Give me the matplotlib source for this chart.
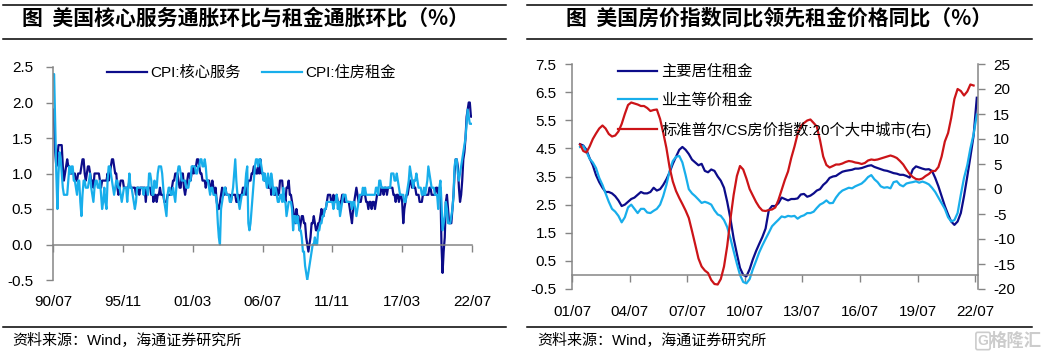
import numpy as np
import pandas as pd
import matplotlib
matplotlib.use("Agg")
import matplotlib.pyplot as plt
from matplotlib.lines import Line2D

# ---------------- data : left panel (monthly, 1990-07 .. 2022-07) ----------------
left_start = "1990-07-01"
core_services = [
    1.9, 1.7, 1.3, 1.1, 1.2, 1.4, 1.4, 1.4, 1.4, 1.1, 0.9, 1.0,
    1.1, 1.2, 1.1, 1.1, 1.0, 1.0, 1.0, 1.0, 1.0, 0.9, 0.9, 1.0,
    1.0, 1.0, 1.1, 1.2, 1.2, 1.0, 0.9, 1.0, 1.1, 1.1, 1.0, 0.9,
    0.9, 0.8, 1.0, 1.0, 1.0, 1.0, 1.0, 0.9, 0.8, 0.9, 0.9, 0.9,
    0.9, 0.9, 1.0, 0.9, 1.0, 1.1, 1.2, 1.2, 1.1, 1.0, 1.0, 0.8,
    0.7, 0.8, 0.9, 0.9, 0.9, 0.8, 0.8, 0.8, 0.8, 0.8, 0.9, 0.8,
    0.8, 0.8, 0.8, 0.8, 0.7, 0.8, 0.8, 0.7, 0.8, 0.8, 0.8, 0.8,
    0.8, 0.6, 0.8, 0.8, 0.8, 0.8, 0.7, 0.8, 0.6, 0.7, 0.7, 0.6,
    0.7, 0.7, 0.8, 0.7, 0.7, 0.7, 0.6, 0.6, 0.6, 0.7, 0.7, 0.7,
    0.7, 0.8, 0.9, 0.9, 1.0, 1.0, 1.0, 0.9, 0.8, 0.8, 1.0, 1.0,
    0.8, 0.7, 0.8, 0.9, 1.0, 1.0, 0.9, 1.0, 1.1, 1.0, 1.1, 1.1,
    1.2, 1.2, 1.1, 1.0, 1.0, 0.9, 0.9, 0.9, 0.8, 0.9, 0.9, 0.9,
    0.8, 0.8, 0.9, 0.8, 0.7, 0.8, 0.6, 0.5, 0.5, 0.6, 0.7, 0.8,
    0.7, 0.7, 0.8, 0.7, 0.7, 0.7, 0.7, 0.6, 0.7, 0.7, 0.7, 0.7,
    0.6, 0.6, 0.7, 0.6, 0.7, 0.7, 0.8, 0.8, 0.8, 0.7, 0.8, 0.9,
    0.9, 0.9, 1.0, 1.0, 1.1, 1.1, 1.0, 1.0, 1.1, 1.0, 1.2, 1.0,
    1.0, 1.0, 0.9, 0.9, 0.9, 0.8, 0.8, 0.9, 0.7, 0.8, 0.8, 0.7,
    0.7, 0.8, 0.7, 0.7, 0.9, 0.9, 0.9, 0.7, 0.7, 0.6, 0.8, 0.8,
    0.9, 0.7, 0.7, 0.6, 0.5, 0.4, 0.3, 0.5, 0.4, 0.4, 0.2, 0.3,
    0.4, 0.4, 0.3, 0.3, 0.1, 0.0, -0.1, 0.0, 0.1, 0.3, 0.3, 0.4,
    0.3, 0.2, 0.2, 0.3, 0.3, 0.4, 0.5, 0.4, 0.4, 0.5, 0.5, 0.6,
    0.7, 0.7, 0.7, 0.6, 0.6, 0.7, 0.6, 0.6, 0.7, 0.6, 0.5, 0.6,
    0.6, 0.7, 0.7, 0.6, 0.6, 0.6, 0.6, 0.6, 0.5, 0.4, 0.3, 0.5,
    0.6, 0.7, 0.8, 0.7, 0.6, 0.6, 0.6, 0.7, 0.7, 0.7, 0.7, 0.6,
    0.6, 0.5, 0.6, 0.6, 0.5, 0.6, 0.6, 0.5, 0.6, 0.7, 0.7, 0.7,
    0.7, 0.8, 0.8, 0.7, 0.8, 0.8, 0.7, 0.8, 0.8, 0.8, 0.8, 0.8,
    0.7, 0.7, 0.6, 0.7, 0.7, 0.6, 0.7, 0.7, 0.6, 0.3, 0.5, 0.6,
    0.7, 0.7, 0.8, 0.9, 0.9, 0.8, 0.9, 0.8, 0.8, 0.7, 0.7, 0.7,
    0.6, 0.6, 0.6, 0.7, 0.7, 0.7, 0.7, 0.7, 0.7, 0.8, 0.8, 0.7,
    0.7, 0.7, 0.7, 0.8, 0.8, 0.7, 0.8, 0.8, 0.0, -0.4, -0.1, 0.1,
    0.6, 0.7, 0.5, 0.3, 0.3, 0.3, 0.5, 0.7, 1.0, 1.2, 1.2, 1.1,
    0.8, 0.6, 0.7, 0.9, 1.2, 1.3, 1.5, 1.8, 1.9, 2.0, 2.0, 1.8,
    1.8,
]
housing_rent = [
    2.4, 2.4, 1.7, 1.0, 0.5, 1.0, 1.3, 1.2, 1.0, 0.8, 0.7, 0.7,
    0.7, 0.7, 0.9, 1.1, 1.0, 1.1, 1.1, 0.9, 0.9, 0.8, 0.7, 0.9,
    0.9, 0.6, 0.4, 0.7, 0.9, 0.9, 0.8, 0.8, 0.8, 0.9, 1.0, 0.8,
    0.7, 0.6, 0.8, 0.9, 0.9, 0.8, 0.8, 0.9, 0.7, 0.5, 0.6, 0.8,
    0.6, 0.5, 0.9, 1.1, 1.1, 1.0, 0.9, 0.8, 0.7, 0.8, 0.9, 0.9,
    0.8, 0.8, 0.7, 0.6, 0.7, 0.8, 0.8, 0.8, 0.6, 0.8, 1.0, 0.8,
    0.8, 0.7, 0.6, 0.5, 0.6, 0.8, 0.8, 0.8, 0.8, 0.8, 0.8, 0.7,
    0.8, 0.8, 0.8, 0.7, 1.0, 1.0, 0.9, 0.7, 0.7, 0.9, 0.8, 0.8,
    1.0, 1.1, 1.1, 1.1, 1.0, 0.8, 0.6, 0.5, 0.4, 0.7, 0.8, 0.8,
    0.7, 0.7, 0.8, 0.7, 0.6, 0.8, 1.0, 1.1, 1.1, 1.0, 0.9, 0.9,
    0.9, 0.9, 0.8, 0.8, 0.8, 0.9, 0.9, 1.1, 1.1, 1.1, 1.1, 1.0,
    1.0, 1.1, 1.1, 1.2, 1.2, 1.1, 1.1, 1.2, 1.1, 0.9, 0.9, 0.8,
    0.7, 0.8, 0.8, 0.7, 0.7, 0.7, 0.6, 0.3, 0.1, 0.0, 0.5, 0.6,
    0.7, 0.8, 0.8, 0.7, 0.7, 0.7, 0.6, 0.6, 0.7, 0.8, 1.0, 1.2,
    0.9, 0.7, 0.6, 0.5, 0.6, 0.7, 0.7, 0.7, 0.8, 1.0, 1.1, 0.3,
    0.2, 0.3, 0.5, 0.7, 0.9, 1.1, 1.2, 1.2, 1.1, 1.2, 1.2, 1.1,
    1.0, 0.9, 1.0, 0.9, 0.8, 1.0, 0.9, 0.8, 1.0, 0.9, 0.7, 0.8,
    0.8, 0.7, 0.6, 0.6, 0.7, 0.7, 0.6, 0.8, 0.6, 0.6, 0.4, 0.5,
    0.6, 0.6, 0.6, 0.5, 0.2, 0.4, 0.4, 0.3, 0.4, 0.3, 0.2, 0.2,
    0.1, -0.1, -0.1, -0.3, -0.4, -0.5, -0.4, -0.3, -0.2, -0.1, 0.0, 0.0,
    0.1, 0.0, 0.0, 0.2, 0.2, 0.3, 0.3, 0.4, 0.4, 0.5, 0.5, 0.6,
    0.6, 0.6, 0.6, 0.6, 0.6, 0.5, 0.6, 0.6, 0.7, 0.5, 0.6, 0.4,
    0.5, 0.6, 0.7, 0.7, 0.7, 0.6, 0.6, 0.6, 0.6, 0.6, 0.5, 0.6,
    0.6, 0.5, 0.4, 0.5, 0.6, 0.7, 0.7, 0.7, 0.8, 0.7, 0.8, 0.7,
    0.7, 0.7, 0.7, 0.7, 0.7, 0.7, 0.7, 0.7, 0.8, 0.8, 0.7, 0.9,
    0.9, 0.8, 0.8, 0.8, 0.8, 0.8, 0.8, 0.8, 0.8, 0.8, 1.0, 1.0,
    1.0, 0.9, 0.9, 1.0, 0.9, 0.8, 0.7, 0.7, 0.7, 0.7, 0.6, 0.6,
    0.7, 0.8, 0.9, 1.1, 1.0, 0.9, 0.8, 0.9, 0.9, 1.0, 0.9, 0.8,
    0.8, 0.8, 0.7, 0.7, 0.8, 0.7, 0.8, 0.9, 1.1, 1.0, 0.9, 0.8,
    0.8, 0.8, 0.7, 0.7, 0.7, 0.5, 0.8, 0.9, 0.6, 0.2, 0.3, 0.4,
    0.6, 0.5, 0.3, 0.3, 0.3, 0.4, 0.5, 0.7, 1.1, 1.2, 1.2, 1.0,
    0.9, 1.0, 1.1, 1.2, 1.3, 1.4, 1.5, 1.7, 1.9, 1.8, 1.7, 1.7,
    1.7,
]
left_yticks = [-0.5, 0.0, 0.5, 1.0, 1.5, 2.0, 2.5]
left_xticks = ["1990-07-01", "1995-11-01", "2001-03-01", "2006-07-01",
               "2011-11-01", "2017-03-01", "2022-07-01"]
left_xtick_labels = ["90/07", "95/11", "01/03", "06/07", "11/11", "17/03", "22/07"]
left_labels = ["CPI:核心服务", "CPI:住房租金"]

# ---------------- data : right panel (every two months from 2001-12) ----------------
right_start = "2001-12-01"
primary_rent = [
    4.65, 4.6, 4.45, 4.15, 3.9, 3.55, 3.3, 3.1, 2.95, 2.95,
    2.9, 2.8, 2.65, 2.45, 2.5, 2.6, 2.7, 2.75, 2.85, 2.95,
    2.9, 2.9, 2.95, 3.1, 3.0, 3.05, 3.2, 3.4, 3.65, 3.95,
    4.2, 4.45, 4.55, 4.45, 4.3, 4.1, 4.0, 3.9, 3.95, 3.7,
    3.65, 3.75, 3.7, 3.5, 3.35, 3.1, 2.6, 2.0, 1.3, 0.75,
    0.25, 0.0, -0.05, 0.2, 0.55, 0.85, 1.1, 1.35, 1.65, 2.3,
    2.45, 2.45, 2.55, 2.75, 2.7, 2.65, 2.7, 2.7, 2.72, 2.86,
    2.88, 2.78, 2.82, 2.9, 3.0, 3.05, 3.2, 3.3, 3.45, 3.5,
    3.52, 3.6, 3.67, 3.7, 3.72, 3.74, 3.78, 3.78, 3.8, 3.84,
    3.88, 3.9, 3.84, 3.8, 3.76, 3.72, 3.7, 3.66, 3.62, 3.6,
    3.56, 3.56, 3.52, 3.46, 3.75, 3.86, 3.82, 3.78, 3.75, 3.76,
    3.7, 3.45, 3.15, 2.8, 2.45, 2.15, 1.9, 1.78, 1.9, 2.2,
    2.8, 3.5, 4.2, 4.95, 6.3,
]
owners_equiv_rent = [
    4.55, 4.58, 4.38, 4.13, 4.0, 3.8, 3.45, 3.2, 2.9, 2.6,
    2.35, 2.25, 2.1, 1.87, 2.05, 2.4, 2.5, 2.35, 2.2, 2.35,
    2.35, 2.22, 2.2, 2.28, 2.35, 2.5, 2.8, 3.2, 3.7, 4.05,
    4.2, 4.23, 4.0, 3.55, 3.05, 2.9, 2.8, 2.68, 2.56, 2.6,
    2.56, 2.5, 2.3, 2.15, 2.1, 1.95, 1.7, 1.3, 0.85, 0.4,
    0.0, -0.25, -0.3, -0.15, 0.2, 0.5, 0.8, 1.05, 1.28, 1.5,
    1.73, 1.85, 1.96, 2.08, 2.05, 2.1, 2.08, 2.1, 2.0, 2.08,
    2.12, 2.2, 2.2, 2.25, 2.38, 2.5, 2.56, 2.65, 2.55, 2.56,
    2.75, 2.9, 3.0, 3.05, 3.1, 3.08, 3.15, 3.2, 3.25, 3.35,
    3.48, 3.55, 3.4, 3.3, 3.15, 3.1, 3.12, 3.08, 3.3, 3.33,
    3.2, 3.15, 3.25, 3.28, 3.3, 3.33, 3.28, 3.32, 3.28, 3.22,
    3.1, 2.95, 2.75, 2.55, 2.35, 2.05, 1.9, 1.95, 2.2, 2.85,
    3.45, 3.9, 4.5, 5.0, 5.7,
]
cs20_yoy = [
    8.9, 7.6, 7.3, 8.5, 10.0, 11.1, 12.1, 12.7, 12.1, 11.0,
    10.5, 10.7, 11.5, 13.0, 15.0, 16.8, 17.3, 17.1, 16.9, 16.6,
    16.6, 16.2, 15.6, 15.8, 15.9, 14.0, 11.3, 8.2, 4.3, 1.5,
    -0.4, -1.8, -3.0, -4.3, -5.8, -8.4, -11.1, -13.9, -15.5, -16.3,
    -16.8, -18.2, -19.0, -19.1, -18.0, -15.5, -11.4, -6.0, -1.2, 2.6,
    4.6, 3.9, 2.1, 0.0, -1.3, -2.6, -3.6, -4.3, -4.4, -4.2,
    -4.1, -3.7, -2.2, -0.2, 1.8, 3.5, 6.2, 8.5, 11.0, 12.6,
    13.2, 13.7, 13.9, 13.2, 12.5, 9.8, 6.5, 4.8, 4.3, 4.6,
    4.9, 4.9, 5.1, 5.4, 5.6, 5.5, 5.3, 5.2, 5.0, 5.2,
    5.7, 5.9, 5.8, 5.9, 6.1, 6.3, 6.5, 6.7, 6.5, 6.2,
    5.6, 4.9, 3.9, 3.0, 2.4, 2.0, 1.9, 2.1, 2.6, 3.0,
    3.6, 3.6, 4.4, 6.5, 9.5, 11.2, 14.2, 18.0, 20.0, 19.6,
    18.7, 19.5, 20.9, 20.7,
]
right_yticks_l = [-0.5, 0.5, 1.5, 2.5, 3.5, 4.5, 5.5, 6.5, 7.5]
right_yticks_r = [-20, -15, -10, -5, 0, 5, 10, 15, 20, 25]
right_xticks = ["2001-07-01", "2004-07-01", "2007-07-01", "2010-07-01",
                "2013-07-01", "2016-07-01", "2019-07-01", "2022-07-01"]
right_xtick_labels = ["01/07", "04/07", "07/07", "10/07", "13/07", "16/07", "19/07", "22/07"]
right_labels = ["主要居住租金", "业主等价租金", "标准普尔/CS房价指数:20个大中城市(右)"]

title_left = "图  美国核心服务通胀环比与租金通胀环比（%）"
title_right = "图  美国房价指数同比领先租金价格同比（%）"
source_text = "资料来源：Wind，海通证券研究所"

# ---------------- styling ----------------
plt.rcParams["font.family"] = ["Liberation Sans", "Noto Sans CJK SC"]
plt.rcParams["axes.unicode_minus"] = False

W, H = 1051, 357
NAVY = "#0c0c8a"
SKY = "#18aeeb"
RED = "#cc1418"
GRAY = "#858585"
LW = 1.6


def fx(px):
    return px / W


def fy(py):
    return 1 - py / H


fig = plt.figure(figsize=(W / 100, H / 100), dpi=100)

# ---------------- left panel ----------------
left_dates = pd.date_range(left_start, periods=len(core_services), freq="MS")
axL = fig.add_axes([fx(53), fy(280), (472 - 53) / W, (280 - 67) / H])
axL.plot(left_dates, core_services, color=NAVY, lw=LW, label=left_labels[0])
axL.plot(left_dates, housing_rent, color=SKY, lw=LW, label=left_labels[1])
axL.set_xlim(left_dates[0], left_dates[-1])
axL.set_ylim(-0.5, 2.5)
axL.set_yticks(left_yticks)
axL.set_yticklabels([f"{v:.1f}" for v in left_yticks])
axL.set_xticks(pd.to_datetime(left_xticks))
axL.set_xticklabels(left_xtick_labels)
for s in ["top", "right"]:
    axL.spines[s].set_visible(False)
axL.spines["bottom"].set_position(("data", 0))
for s in ["left", "bottom"]:
    axL.spines[s].set_color(GRAY)
    axL.spines[s].set_linewidth(1.1)
axL.tick_params(axis="y", direction="out", length=5, width=1, color=GRAY, pad=9.4, labelsize=11)
axL.tick_params(axis="x", direction="out", length=5, width=1, color=GRAY, pad=31, labelsize=11)
axL.legend(loc="center left", bbox_to_anchor=(fx(107), fy(73)), bbox_transform=fig.transFigure,
           ncol=2, frameon=False, borderpad=0, borderaxespad=0, fontsize=11,
           handlelength=2.6, handletextpad=0.2, columnspacing=1.45)

# ---------------- right panel ----------------
right_dates = pd.date_range(right_start, periods=len(primary_rent), freq="2MS")
red_dates = right_dates[:len(cs20_yoy)]
axR = fig.add_axes([fx(572), fy(289), (978 - 572) / W, (289 - 64) / H])
axR2 = axR.twinx()
l1, = axR.plot(right_dates, primary_rent, color=NAVY, lw=LW, label=right_labels[0])
l2, = axR.plot(right_dates, owners_equiv_rent, color=SKY, lw=LW, label=right_labels[1])
l3, = axR2.plot(red_dates, cs20_yoy, color=RED, lw=LW, label=right_labels[2])
axR.set_xlim(pd.Timestamp("2001-07-01"), pd.Timestamp("2022-08-24"))
axR.set_ylim(-0.5, 7.5)
axR2.set_ylim(-20, 25)
axR.set_yticks(right_yticks_l)
axR.set_yticklabels([f"{v:.1f}" for v in right_yticks_l])
axR2.set_yticks(right_yticks_r)
axR2.set_yticklabels([f"{v:d}" for v in right_yticks_r])
axR.set_xticks(pd.to_datetime(right_xticks))
axR.set_xticklabels(right_xtick_labels)
for s in ["top", "right"]:
    axR.spines[s].set_visible(False)
for s in ["top", "left", "bottom"]:
    axR2.spines[s].set_visible(False)
axR.spines["bottom"].set_position(("data", 0))
for sp in [axR.spines["left"], axR.spines["bottom"], axR2.spines["right"]]:
    sp.set_color(GRAY)
    sp.set_linewidth(1.1)
axR.tick_params(axis="y", direction="out", length=5, width=1, color=GRAY, pad=6, labelsize=11)
axR2.tick_params(axis="y", direction="out", length=5, width=1, color=GRAY, pad=6, labelsize=11)
axR.tick_params(axis="x", direction="out", length=5, width=1, color=GRAY, pad=16.3, labelsize=11)
axR2.legend([l1, l2, l3], right_labels, loc="center left", bbox_to_anchor=(fx(618), fy(101.5)),
            bbox_transform=fig.transFigure, frameon=False, borderpad=0, borderaxespad=0,
            fontsize=11, handlelength=2.55, handletextpad=0.3, labelspacing=0.9)

# ---------------- titles, rules, sources ----------------
tfont = ["Noto Sans CJK SC"]
fig.text(fx(246), fy(18), title_left, ha="center", va="center", fontsize=15,
         fontweight="bold", family=tfont)
fig.text(fx(779), fy(18), title_right, ha="center", va="center", fontsize=15,
         fontweight="bold", family=tfont)
for x0, x1 in [(3, 506), (527, 1032)]:
    for yy in (5, 39, 327):
        fig.add_artist(Line2D([fx(x0), fx(x1)], [fy(yy), fy(yy)], color="black", lw=1.1,
                              transform=fig.transFigure))
fig.text(fx(12), fy(341), source_text, ha="left", va="center", fontsize=10.8)
fig.text(fx(537), fy(341), source_text, ha="left", va="center", fontsize=10.8)
fig.text(fx(983), fy(341), "G", ha="center", va="center", fontsize=10, color="#cccccc",
         fontweight="bold",
         bbox=dict(boxstyle="round,pad=0.12", fc="none", ec="#cccccc", lw=1.2))
fig.text(fx(1042), fy(341), "格隆汇", ha="right", va="center", fontsize=12.5,
         color="#cccccc", fontweight="bold", family=tfont)

fig.savefig("out.png", dpi=100)
